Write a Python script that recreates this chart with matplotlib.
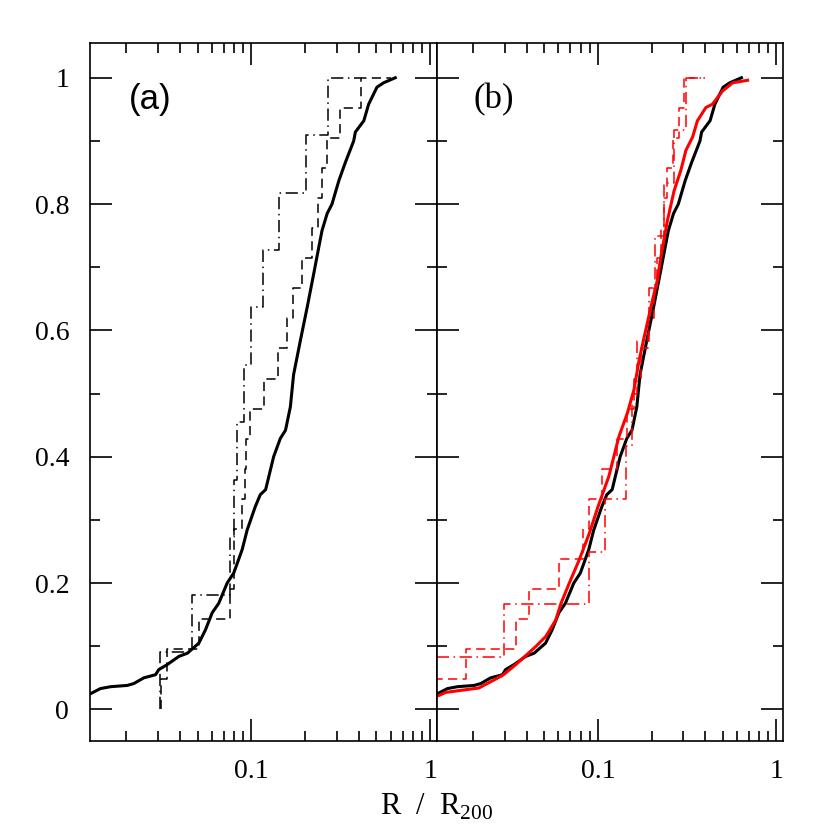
import numpy as np
import matplotlib
matplotlib.use("Agg")
import matplotlib.pyplot as plt

# cumulative distribution of the full sample (solid black, both panels)
all_r = [0.0126, 0.0143, 0.0163, 0.0202, 0.022, 0.025, 0.0291, 0.0303, 0.0338, 0.0393,
         0.0438, 0.0508, 0.0553, 0.0603, 0.0656, 0.0731, 0.0796, 0.0887, 0.0946, 0.105,
         0.112, 0.12, 0.133, 0.145, 0.155, 0.165, 0.172, 0.188, 0.205, 0.223,
         0.238, 0.248, 0.265, 0.282, 0.308, 0.335, 0.373, 0.381, 0.425, 0.452,
         0.503, 0.548, 0.637]
all_f = [0.025, 0.033, 0.036, 0.038, 0.041, 0.05, 0.055, 0.063, 0.071, 0.084,
         0.089, 0.105, 0.126, 0.153, 0.168, 0.2, 0.216, 0.253, 0.284, 0.321,
         0.34, 0.348, 0.4, 0.429, 0.442, 0.479, 0.53, 0.585, 0.637, 0.69,
         0.732, 0.758, 0.785, 0.8, 0.837, 0.866, 0.9, 0.914, 0.932, 0.958,
         0.985, 0.992, 1.0]

# corrected sample (solid red, panel b)
red_r = [0.0123, 0.014, 0.0215, 0.0292, 0.0346, 0.0449, 0.0511, 0.058, 0.062, 0.069,
         0.0785, 0.0894, 0.1, 0.115, 0.131, 0.146, 0.159, 0.17, 0.185, 0.202,
         0.215, 0.225, 0.245, 0.267, 0.291, 0.311, 0.339, 0.361, 0.403, 0.438,
         0.499, 0.569, 0.69]
red_f = [0.02, 0.027, 0.034, 0.054, 0.071, 0.1, 0.116, 0.142, 0.168, 0.2,
         0.237, 0.279, 0.321, 0.369, 0.432, 0.469, 0.506, 0.553, 0.6, 0.648,
         0.679, 0.716, 0.774, 0.821, 0.853, 0.885, 0.906, 0.932, 0.953, 0.958,
         0.979, 0.992, 0.996]

# small samples, radii of each object (step CDFs)
a_dash = [0.031, 0.0335, 0.0508, 0.0757, 0.0796, 0.0798, 0.0887, 0.0922, 0.0926, 0.0987,
          0.117, 0.1415, 0.158, 0.170, 0.192, 0.218, 0.236, 0.248, 0.265, 0.312, 0.41]
a_dashdot = [0.0307, 0.0466, 0.0757, 0.0803, 0.0832, 0.0906, 0.099, 0.116, 0.143, 0.203, 0.268]
b_dash = [0.01, 0.0181, 0.0346, 0.0411, 0.0607, 0.082, 0.0894, 0.105, 0.128, 0.145,
          0.16, 0.175, 0.19, 0.205, 0.215, 0.225, 0.235, 0.245, 0.262, 0.285, 0.305]
b_dashdot = [0.01, 0.0298, 0.0894, 0.1095, 0.143, 0.156, 0.166, 0.193, 0.21, 0.235, 0.267, 0.313]


def step_cdf(r, rend):
    n = len(r)
    xs = [r[0]] + list(r) + [rend]
    ys = [0] + [(k + 1) / n for k in range(n)] + [1.0]
    return xs, ys


plt.rcParams['font.family'] = ['Liberation Serif', 'DejaVu Serif']
fig = plt.figure(figsize=(8.3, 8.3), dpi=100)
ax1 = fig.add_axes([0.1084, 0.1072, 0.4181, 0.841])
ax2 = fig.add_axes([0.5265, 0.1072, 0.4169, 0.841])

dash = (0, (6, 3.5))
dashdot = (0, (8, 3, 1, 3))

ax1.plot(all_r, all_f, color='black', lw=2.2)
x, y = step_cdf(a_dash, 0.6)
ax1.step(x, y, where='post', color='black', lw=1.1, linestyle=dash)
x, y = step_cdf(a_dashdot, 0.41)
ax1.step(x, y, where='post', color='black', lw=1.1, linestyle=dashdot)

ax2.plot(all_r, all_f, color='black', lw=2.2)
ax2.plot(red_r, red_f, color='red', lw=2.2)
x, y = step_cdf(b_dash, 0.40)
ax2.step(x, y, where='post', color='red', lw=1.1, linestyle=dash)
x, y = step_cdf(b_dashdot, 0.40)
ax2.step(x, y, where='post', color='red', lw=1.1, linestyle=dashdot)

minors = [0.02, 0.03, 0.04, 0.05, 0.06, 0.07, 0.08, 0.09,
          0.2, 0.3, 0.4, 0.5, 0.6, 0.7, 0.8, 0.9]
for ax in (ax1, ax2):
    ax.set_xscale('log')
    ax.set_xlim(0.0125, 1.09)
    ax.set_ylim(-0.05, 1.055)
    ax.set_xticks([0.1, 1])
    ax.set_xticklabels(['0.1', '1'])
    ax.set_xticks(minors, minor=True)
    ax.set_yticks([0, 0.2, 0.4, 0.6, 0.8, 1])
    ax.set_yticks([0.1, 0.3, 0.5, 0.7, 0.9], minor=True)
    ax.tick_params(which='both', direction='in', top=True, right=True, width=1.2)
    ax.tick_params(which='major', length=16, labelsize=20)
    ax.tick_params(which='minor', length=7.5)
    ax.tick_params(axis='x', which='both', labelbottom=True, pad=13)
    ax.xaxis.set_minor_formatter(plt.NullFormatter())
    for s in ax.spines.values():
        s.set_linewidth(1.2)

ax1.set_yticklabels(['0', '0.2', '0.4', '0.6', '0.8', '1'])
ax1.tick_params(axis='y', pad=15)
ax2.set_yticklabels([])

ax1.text(0.0205, 0.965, '(a)', fontsize=25, family='Liberation Sans', ha='left', va='center')
ax2.text(0.0201, 0.965, '(b)', fontsize=25, ha='left', va='center')

fig.text(0.5265, 0.028, r'R  /  R$_{\mathregular{200}}$', fontsize=22, ha='center', va='center')

fig.savefig('out.png', dpi=100)
